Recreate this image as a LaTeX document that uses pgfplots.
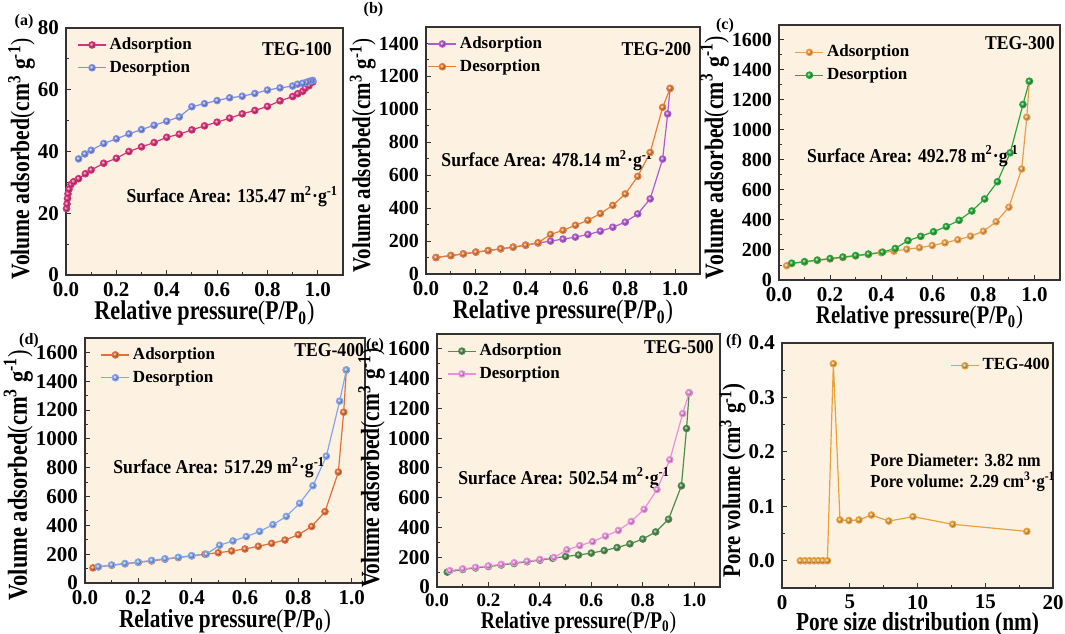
\documentclass[border=0pt]{standalone}
\usepackage{fontspec}
\setmainfont{Liberation Serif}
\newfontfamily\condfont[FakeStretch=0.82]{Liberation Serif}
\newfontfamily\annfont[FakeStretch=0.9]{Liberation Serif}
\usepackage{pgfplots}
\pgfplotsset{compat=1.18}

\definecolor{bgc}{HTML}{FDF1E1}
\definecolor{axc}{HTML}{333333}
\definecolor{cApink}{HTML}{D8317A}
\definecolor{cAblue}{HTML}{7C8FE6}
\definecolor{cBpur}{HTML}{B25BD0}
\definecolor{cBora}{HTML}{E57F3A}
\definecolor{cCora}{HTML}{E9A04E}
\definecolor{cCgrn}{HTML}{27A83A}
\definecolor{cDora}{HTML}{E2703A}
\definecolor{cDblu}{HTML}{82A6EE}
\definecolor{cEgrn}{HTML}{4F8B4F}
\definecolor{cEpnk}{HTML}{E991DD}
\definecolor{cFora}{HTML}{E8A23C}

\newcommand{\ylab}{Volume adsorbed{\mdseries(}cm\textsuperscript{3} g\textsuperscript{-1}{\mdseries)}}
\newcommand{\xlab}{Relative pressure{\mdseries(}P/P\textsubscript{0}{\mdseries)}}
\newcommand{\unit}{m\textsuperscript{2}·g\textsuperscript{-1}}

\tikzset{ann/.style={font=\annfont\bfseries\fontsize{9.8}{11}\selectfont, inner sep=0pt}}

\pgfplotsset{
 panel/.style={
  scale only axis,
  axis background/.style={fill=bgc},
  axis line style={draw=axc, line width=0.7pt},
  every tick/.style={draw=axc, line width=0.5pt},
  tick pos=left, tick align=inside,
  major tick length=2.5pt, minor tick length=1.5pt,
  minor tick num=1,
  /pgf/number format/assume math mode=true,
  /pgf/number format/1000 sep={},
  ticklabel style={font=\bfseries\fontsize{10.5}{12}\selectfont},
  xlabel style={yshift=4.5pt},
  ylabel style={inner sep=1pt},
  legend style={draw=none, fill=none, font=\bfseries\fontsize{8.5}{10}\selectfont, anchor=north west, row sep=1pt, inner sep=0pt, nodes={inner sep=1.5pt}},
  legend cell align=left,
  legend image code/.code={\draw[##1, mark repeat=2, mark phase=2] plot coordinates {(0pt,0pt) (7pt,0pt) (14pt,0pt)};},
 },
 iso/.style={panel, xmin=0, xmax=1.1, xtick={0,0.2,0.4,0.6,0.8,1.0},
  xticklabel style={/pgf/number format/fixed, /pgf/number format/fixed zerofill, /pgf/number format/precision=1}},
 ser/.style={line width=0.6pt, color=#1, mark=ball, mark size=1.6pt, mark options={ball color=#1}},
}

\begin{document}
\begin{tikzpicture}
\useasboundingbox (0,0) rectangle (532.5pt,316.5pt);

% (a)
\begin{axis}[iso, at={(33pt,179pt)}, anchor=south west, width=138.5pt, height=123.5pt,
  ymin=0, ymax=80, ytick={0,20,40,60,80},
  xlabel={\condfont\bfseries\fontsize{13.5}{14}\selectfont\xlab},
  ylabel={\condfont\bfseries\fontsize{13.2}{14}\selectfont\ylab},
  ylabel style={at={(ticklabel cs:0.47,-3pt)}},
  legend style={at={(rel axis cs:0.04,0.975)}}]
\addplot[ser=cApink] coordinates {(0.002,21.5)(0.004,23)(0.006,24.8)(0.008,26.3)(0.012,27.8)(0.02,29.3)(0.03,30.2)(0.05,31.2)(0.077,32.8)(0.1,34)(0.15,36.2)(0.2,37.8)(0.25,40)(0.3,41.5)(0.35,42.9)(0.4,44.6)(0.45,45.6)(0.5,47)(0.55,48.3)(0.6,49.5)(0.65,50.8)(0.7,52.2)(0.75,53.3)(0.8,54.6)(0.85,56.4)(0.9,57.8)(0.92,58.7)(0.94,59.5)(0.95,60.5)(0.965,61.3)(0.98,62.5)};
\addlegendentry{Adsorption}
\addplot[ser=cAblue] coordinates {(0.98,63)(0.975,62.9)(0.965,62.7)(0.955,62.4)(0.94,62.1)(0.92,61.8)(0.9,61.2)(0.85,60.6)(0.8,59.9)(0.75,58.8)(0.7,57.9)(0.65,57.4)(0.6,56.5)(0.55,55.5)(0.5,54.5)(0.45,51.2)(0.4,49.8)(0.35,48.5)(0.3,47.1)(0.25,45.7)(0.2,44.1)(0.15,42.6)(0.1,40.4)(0.075,39.2)(0.05,37.6)};
\addlegendentry{Desorption}
\node[ann, anchor=west] at (rel axis cs:0.217,0.316) {Surface Area: 135.47 \unit};
\node[ann] at (rel axis cs:0.834,0.915) {TEG-100};
\end{axis}

% (b)
\begin{axis}[iso, at={(213pt,179.5pt)}, anchor=south west, width=137pt, height=123.5pt,
  ymin=0, ymax=1500, ytick={0,200,400,600,800,1000,1200,1400},
  yticklabel style={font=\bfseries\fontsize{10}{12}\selectfont},
  xlabel={\condfont\bfseries\fontsize{13.5}{14}\selectfont\xlab},
  ylabel={\condfont\bfseries\fontsize{12.8}{14}\selectfont\ylab},
  ylabel style={at={(ticklabel cs:0.48,-3pt)}},
  legend style={at={(rel axis cs:0.005,0.975)}}]
\addplot[ser=cBpur] coordinates {(0.04,100)(0.1,112)(0.15,122)(0.2,133)(0.25,142)(0.3,153)(0.35,163)(0.4,175)(0.45,188)(0.5,200)(0.55,212)(0.6,224)(0.65,240)(0.7,260)(0.75,284)(0.8,315)(0.85,365)(0.9,456)(0.95,698)(0.97,972)(0.98,1127)};
\addlegendentry{Adsorption}
\addplot[ser=cBora] coordinates {(0.98,1127)(0.95,1012)(0.9,738)(0.85,593)(0.8,486)(0.75,417)(0.7,367)(0.65,326)(0.6,296)(0.55,265)(0.5,240)(0.45,190)(0.4,175)(0.35,163)(0.3,153)(0.25,142)(0.2,133)(0.15,122)(0.1,112)(0.04,100)};
\addlegendentry{Desorption}
\node[ann, anchor=west] at (rel axis cs:0.055,0.46) {Surface Area: 478.14 \unit};
\node[ann] at (rel axis cs:0.841,0.91) {TEG-200};
\end{axis}

% (c)
\begin{axis}[iso, at={(389.5pt,176.5pt)}, anchor=south west, width=140.5pt, height=127.5pt,
  ymin=0, ymax=1700, ytick={0,200,400,600,800,1000,1200,1400,1600},
  yticklabel style={font=\bfseries\fontsize{10}{12}\selectfont},
  xlabel={\condfont\bfseries\fontsize{12.7}{14}\selectfont\xlab},
  ylabel={\condfont\bfseries\fontsize{13.3}{14}\selectfont\ylab},
  ylabel style={at={(ticklabel cs:0.48,-3pt)}},
  legend style={at={(rel axis cs:0.055,0.935)}}]
\addplot[ser=cCora] coordinates {(0.03,95)(0.05,110)(0.1,120)(0.15,130)(0.2,140)(0.25,150)(0.3,160)(0.35,170)(0.4,182)(0.45,192)(0.5,205)(0.55,215)(0.6,230)(0.65,248)(0.7,268)(0.75,292)(0.8,325)(0.85,388)(0.9,485)(0.95,740)(0.97,1085)(0.98,1325)};
\addlegendentry{Adsorption}
\addplot[ser=cCgrn] coordinates {(0.98,1325)(0.955,1170)(0.905,848)(0.855,655)(0.805,540)(0.755,460)(0.705,398)(0.655,356)(0.605,322)(0.555,291)(0.505,263)(0.455,210)(0.405,186)(0.35,173)(0.3,163)(0.25,153)(0.2,143)(0.15,133)(0.1,122)(0.05,112)};
\addlegendentry{Desorption}
\node[ann, anchor=west] at (rel axis cs:0.099,0.486) {Surface Area: 492.78 \unit};
\node[ann] at (rel axis cs:0.857,0.929) {TEG-300};
\end{axis}

% (d)
\begin{axis}[iso, xmax=1.05, at={(42.5pt,25pt)}, anchor=south west, width=140pt, height=122.5pt,
  ymin=0, ymax=1700, ytick={0,200,400,600,800,1000,1200,1400,1600},
  xlabel={\condfont\bfseries\fontsize{13}{14}\selectfont\xlab},
  ylabel={\condfont\bfseries\fontsize{13.7}{15}\selectfont\ylab},
  ylabel style={at={(ticklabel cs:0.44,-3pt)}},
  legend style={at={(rel axis cs:0.055,0.975)}}]
\addplot[ser=cDora] coordinates {(0.03,105)(0.05,112)(0.1,123)(0.15,133)(0.2,143)(0.25,153)(0.3,165)(0.35,176)(0.4,188)(0.45,200)(0.5,210)(0.55,222)(0.6,236)(0.65,255)(0.7,275)(0.75,298)(0.8,335)(0.85,392)(0.9,495)(0.95,770)(0.97,1185)(0.98,1478)};
\addlegendentry{Adsorption}
\addplot[ser=cDblu] coordinates {(0.98,1478)(0.955,1262)(0.905,880)(0.855,675)(0.805,553)(0.755,462)(0.705,405)(0.655,358)(0.605,322)(0.555,292)(0.505,262)(0.455,200)(0.4,190)(0.35,178)(0.3,168)(0.25,157)(0.2,145)(0.15,135)(0.1,125)(0.05,112)};
\addlegendentry{Desorption}
\node[ann, anchor=west] at (rel axis cs:0.1,0.47) {Surface Area: 517.29 \unit};
\node[ann] at (rel axis cs:0.872,0.95) {TEG-400};
\end{axis}

% (e)
\begin{axis}[iso, at={(218.5pt,23pt)}, anchor=south west, width=141.5pt, height=126.5pt,
  ymin=0, ymax=1700, ytick={0,200,400,600,800,1000,1200,1400,1600},
  xticklabel style={font=\bfseries\fontsize{9.5}{11}\selectfont},
  xlabel={\condfont\bfseries\fontsize{12}{13}\selectfont\xlab},
  ylabel={\condfont\bfseries\fontsize{13.1}{14}\selectfont\ylab},
  ylabel style={at={(ticklabel cs:0.47,-3pt)}},
  legend style={at={(rel axis cs:0.035,0.975)}}]
\addplot[ser=cEgrn] coordinates {(0.04,100)(0.1,118)(0.15,128)(0.2,138)(0.25,148)(0.3,158)(0.35,170)(0.4,180)(0.45,193)(0.5,205)(0.55,215)(0.6,228)(0.65,245)(0.7,265)(0.75,290)(0.8,322)(0.85,370)(0.9,455)(0.95,680)(0.97,1065)(0.98,1305)};
\addlegendentry{Adsorption}
\addplot[ser=cEpnk] coordinates {(0.98,1305)(0.955,1165)(0.905,855)(0.855,655)(0.805,522)(0.755,440)(0.705,380)(0.655,342)(0.605,305)(0.555,278)(0.505,250)(0.455,198)(0.4,185)(0.35,173)(0.3,163)(0.25,152)(0.2,142)(0.15,132)(0.1,122)(0.05,110)};
\addlegendentry{Desorption}
\node[ann, anchor=west] at (rel axis cs:0.074,0.43) {Surface Area: 502.54 \unit};
\node[ann] at (rel axis cs:0.855,0.947) {TEG-500};
\end{axis}

% (f)
\begin{axis}[panel, at={(391pt,22.5pt)}, anchor=south west, width=135.5pt, height=122.5pt,
  xmin=0, xmax=20, xtick={0,5,10,15,20},
  ymin=-0.05, ymax=0.4, ytick={0,0.1,0.2,0.3,0.4},
  yticklabel style={/pgf/number format/fixed, /pgf/number format/fixed zerofill, /pgf/number format/precision=1},
  xlabel={\condfont\bfseries\fontsize{13}{13.5}\selectfont Pore size distribution (nm)},
  xlabel style={yshift=0.8pt},
  ylabel={\condfont\bfseries\fontsize{12.7}{14}\selectfont Pore volume (cm\textsuperscript{3} g\textsuperscript{-1})},
  ylabel style={at={(ticklabel cs:0.44,-3pt)}},
  legend style={at={(rel axis cs:0.62,0.95)}}]
\addplot[ser=cFora] coordinates {(1.35,0)(1.7,0)(2.03,0)(2.37,0)(2.69,0)(3.01,0)(3.35,0)(3.79,0.362)(4.28,0.075)(4.94,0.074)(5.68,0.075)(6.6,0.084)(7.88,0.073)(9.67,0.081)(12.6,0.067)(18.07,0.054)};
\addlegendentry{TEG-400}
\node[ann, anchor=west, font=\annfont\bfseries\fontsize{9.2}{10}\selectfont] at (rel axis cs:0.325,0.522) {Pore Diameter: 3.82 nm};
\node[ann, anchor=west, font=\annfont\bfseries\fontsize{9.2}{10}\selectfont] at (rel axis cs:0.325,0.433) {Pore volume: 2.29 cm\textsuperscript{3}·g\textsuperscript{-1}};
\end{axis}

\begin{scope}[every node/.style={font=\bfseries\fontsize{8}{9}\selectfont, inner sep=0pt}]
\node at (12pt,305.5pt) {(a)};
\node at (186.75pt,311.5pt) {(b)};
\node at (362.5pt,303.5pt) {(c)};
\node at (14.5pt,146pt) {(d)};
\node at (187.5pt,143.5pt) {(e)};
\node at (367pt,145.5pt) {(f)};
\end{scope}
\end{tikzpicture}
\end{document}
